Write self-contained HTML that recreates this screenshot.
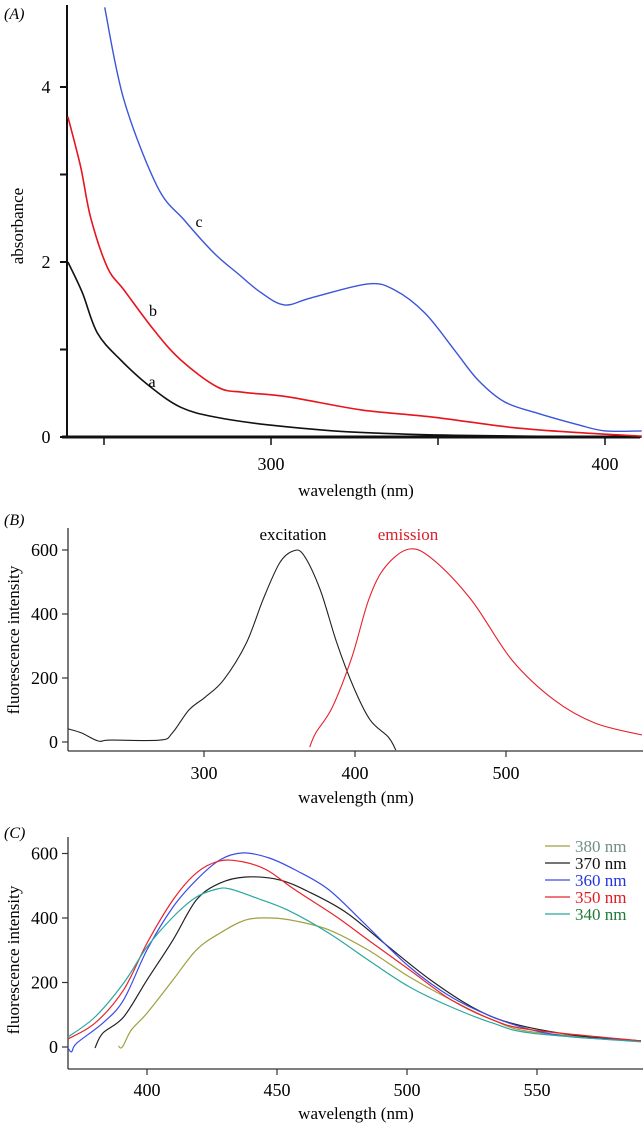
<!DOCTYPE html>
<html><head><meta charset="utf-8"><style>
html,body{margin:0;padding:0;background:#fff;}
svg{display:block;font-family:"Liberation Serif",serif;}
</style></head><body>
<svg id="fig" width="643" height="1123" viewBox="0 0 643 1123" xmlns="http://www.w3.org/2000/svg">
<g id="pA"></g>
<g id="pB"></g>
<g id="pC"></g>
</svg>
<script>
// Panel A data
const aWl_a=[239.2,243.5,248,255,264,273,283,299,323,355,403,411];
const aAbs_a=[2.0,1.65,1.19,0.88,0.57,0.34,0.23,0.14,0.06,0.02,0.0,0.0];
const aWl_b=[239.2,243,246,251,256,265,273,284,292,305,327,348,372,392,411];
const aAbs_b=[3.66,3.09,2.51,1.94,1.68,1.22,0.88,0.57,0.51,0.46,0.31,0.23,0.11,0.05,0.01];
const aWl_c=[250.2,256,266,274,283,290,297,304,312,329,337,346,355,362,370,380,392,400,411];
const aAbs_c=[4.91,3.85,2.86,2.48,2.10,1.87,1.65,1.51,1.59,1.75,1.68,1.42,0.99,0.65,0.40,0.27,0.14,0.07,0.07];
const aXTicks=[250,300,350,400];
const aXLabels=["","300","","400"];
const aYTicks=[0,1,2,3,4];
const aYLabels=["0","","2","","4"];
// Panel B data
const bExWl=[210,219,230,238,271,279,290,301,313,328,339,350,359,366,377,388,399,410,422,427];
const bExI=[41,28,3,6,6,28,100,141,194,309,444,559,597,584,475,309,172,69,16,-25];
const bEmWl=[370,374,385,398,409,420,436,452,477,504,532,559,590];
const bEmI=[-16,28,109,266,444,547,603,569,444,256,131,59,22];
const bXTicks=[300,400,500];
const bYTicks=[0,200,400,600];
// Panel C data
const c360Wl=[369.6,371,373,383,391,400,410,419,428,437,447,457,470,485,501,517,533,548,564,590];
const c360I=[-3,-15,12,74,146,301,434,518,580,602,586,549,487,372,248,155,93,53,31,19];
const c350Wl=[369.6,380,391,400,410,419,428,437,446,457,473,485,501,517,533,548,590];
const c350I=[25,74,177,322,456,540,577,574,549,487,403,332,239,146,84,53,19];
const c370Wl=[380,383,391,400,410,419,428,438,451,463,477,493,509,525,540,564,590];
const c370I=[-3,43,93,208,332,456,508,527,518,478,415,310,208,124,74,37,19];
const c380Wl=[389,390.5,394,400,410,419,428,438,448,457,470,485,501,517,533,548,590];
const c380I=[3,0,53,105,208,301,353,394,400,391,363,301,217,146,84,47,19];
const c340Wl=[369.6,380,391,400,410,419,427,432,441,454,470,485,501,517,533,548,590];
const c340I=[31,93,198,310,403,465,490,490,465,425,353,270,186,124,74,43,16];
const cXTicks=[400,450,500,550];
const cYTicks=[0,200,400,600];
const cLegendLabels=["380 nm","370 nm","360 nm","350 nm","340 nm"];

const NS="http://www.w3.org/2000/svg";
function mk(parent,tag,attrs,text){const e=document.createElementNS(NS,tag);for(const k in attrs)e.setAttribute(k,attrs[k]);if(text!==undefined)e.textContent=text;parent.appendChild(e);return e;}
function pathD(xs,ys,fx,fy){
  const P=xs.map((w,i)=>[fx(w),fy(ys[i])]);
  let d="M"+P[0][0].toFixed(1)+","+P[0][1].toFixed(1);
  for(let i=0;i<P.length-1;i++){
    const p0=P[Math.max(0,i-1)],p1=P[i],p2=P[i+1],p3=P[Math.min(P.length-1,i+2)];
    const c1x=p1[0]+(p2[0]-p0[0])/6,c1y=p1[1]+(p2[1]-p0[1])/6;
    const c2x=p2[0]-(p3[0]-p1[0])/6,c2y=p2[1]-(p3[1]-p1[1])/6;
    d+=" C"+c1x.toFixed(1)+","+c1y.toFixed(1)+" "+c2x.toFixed(1)+","+c2y.toFixed(1)+" "+p2[0].toFixed(1)+","+p2[1].toFixed(1);
  }
  return d;
}

// ---- Panel A ----
const A=document.getElementById('pA');
const ax=w=>271+(w-300)*3.34, ay=v=>437-v*87.5;
let t;
t=mk(A,'text',{x:4,y:19,'font-size':16,'font-style':'italic'},'(A)');

let l=mk(A,'line',{x1:67,y1:5,x2:67,y2:438,stroke:'#111','stroke-width':2});

l=mk(A,'line',{x1:62,y1:437,x2:640,y2:437,stroke:'#111','stroke-width':3});

aYTicks.forEach((v,i)=>{const e=mk(A,'line',{x1:60,y1:ay(v),x2:67,y2:ay(v),stroke:'#111','stroke-width':2});

if(aYLabels[i]){const tt=mk(A,'text',{x:46,y:ay(v)+6,'font-size':18,'text-anchor':'middle'},aYLabels[i]);
}});
aXTicks.forEach((v,i)=>{const e=mk(A,'line',{x1:ax(v),y1:437,x2:ax(v),y2:445,stroke:'#111','stroke-width':1.5});

if(aXLabels[i]){const tt=mk(A,'text',{x:ax(v),y:470,'font-size':18,'text-anchor':'middle'},aXLabels[i]);
}});
t=mk(A,'text',{x:356,y:496,'font-size':17,'text-anchor':'middle'},'wavelength (nm)');

t=mk(A,'text',{x:0,y:0,'font-size':17,'text-anchor':'middle',transform:'translate(23,226) rotate(-90)'},'absorbance');

let p=mk(A,'path',{d:pathD(aWl_a,aAbs_a,ax,ay),fill:'none',stroke:'#111','stroke-width':1.6});

p=mk(A,'path',{d:pathD(aWl_b,aAbs_b,ax,ay),fill:'none',stroke:'#e8141c','stroke-width':1.6});

p=mk(A,'path',{d:pathD(aWl_c,aAbs_c,ax,ay),fill:'none',stroke:'#3a55d8','stroke-width':1.4});

t=mk(A,'text',{x:199,y:227,'font-size':16,'text-anchor':'middle'},'c');

t=mk(A,'text',{x:153,y:316,'font-size':16,'text-anchor':'middle'},'b');

t=mk(A,'text',{x:152,y:387,'font-size':16,'text-anchor':'middle'},'a');


// ---- Panel B ----
const B=document.getElementById('pB');
const bx=w=>204+(w-300)*1.51, by=v=>742-v*0.32;
t=mk(B,'text',{x:4,y:525,'font-size':16,'font-style':'italic'},'(B)');

l=mk(B,'line',{x1:68,y1:528,x2:68,y2:751,stroke:'#333','stroke-width':1.3});

l=mk(B,'line',{x1:68,y1:751,x2:643,y2:751,stroke:'#333','stroke-width':1.3});

bYTicks.forEach(v=>{const e=mk(B,'line',{x1:62,y1:by(v),x2:68,y2:by(v),stroke:'#333','stroke-width':1.2});

const tt=mk(B,'text',{x:58,y:by(v)+6,'font-size':18,'text-anchor':'end'},String(v));
});
bXTicks.forEach(v=>{const e=mk(B,'line',{x1:bx(v),y1:751,x2:bx(v),y2:757,stroke:'#333','stroke-width':1.2});

const tt=mk(B,'text',{x:bx(v),y:779,'font-size':18,'text-anchor':'middle'},String(v));
});
t=mk(B,'text',{x:356,y:803,'font-size':17,'text-anchor':'middle'},'wavelength (nm)');

t=mk(B,'text',{x:0,y:0,'font-size':17,'text-anchor':'middle',transform:'translate(19,640) rotate(-90)'},'fluorescence intensity');

p=mk(B,'path',{d:pathD(bExWl,bExI,bx,by),fill:'none',stroke:'#222','stroke-width':1.1});

p=mk(B,'path',{d:pathD(bEmWl,bEmI,bx,by),fill:'none',stroke:'#e8202c','stroke-width':1.1});

t=mk(B,'text',{x:293,y:540,'font-size':17,'text-anchor':'middle'},'excitation');

t=mk(B,'text',{x:408,y:540,'font-size':17,'text-anchor':'middle',fill:'#d8202c'},'emission');


// ---- Panel C ----
const C=document.getElementById('pC');
const cx=w=>147+(w-400)*2.6, cy=v=>1047-v*0.3225;
t=mk(C,'text',{x:4,y:838,'font-size':16,'font-style':'italic'},'(C)');

l=mk(C,'line',{x1:68,y1:837,x2:68,y2:1069,stroke:'#333','stroke-width':1.3});

l=mk(C,'line',{x1:68,y1:1069,x2:643,y2:1069,stroke:'#333','stroke-width':1.3});

cYTicks.forEach(v=>{const e=mk(C,'line',{x1:62,y1:cy(v),x2:68,y2:cy(v),stroke:'#333','stroke-width':1.2});

const tt=mk(C,'text',{x:58,y:cy(v)+6,'font-size':18,'text-anchor':'end'},String(v));
});
cXTicks.forEach(v=>{const e=mk(C,'line',{x1:cx(v),y1:1069,x2:cx(v),y2:1075,stroke:'#333','stroke-width':1.2});

const tt=mk(C,'text',{x:cx(v),y:1096,'font-size':18,'text-anchor':'middle'},String(v));
});
t=mk(C,'text',{x:356,y:1119,'font-size':17,'text-anchor':'middle'},'wavelength (nm)');

t=mk(C,'text',{x:0,y:0,'font-size':17,'text-anchor':'middle',transform:'translate(19,960) rotate(-90)'},'fluorescence intensity');

const cSeries=[[c380Wl,c380I,'#a0a040','#6f9080','series-380nm'],[c370Wl,c370I,'#222','#111','series-370nm'],[c360Wl,c360I,'#3a4ce8','#2233dd','series-360nm'],[c350Wl,c350I,'#e8242c','#e01a22','series-350nm'],[c340Wl,c340I,'#2aa8a0','#1f7a38','series-340nm']];
cSeries.forEach((s,i)=>{
const pp=mk(C,'path',{d:pathD(s[0],s[1],cx,cy),fill:'none',stroke:s[2],'stroke-width':1.2});


const ly=846+i*17;
const ll=mk(C,'line',{x1:545,y1:ly,x2:570,y2:ly,stroke:s[2],'stroke-width':1.2});


const lt=mk(C,'text',{x:575,y:ly+6,'font-size':17,fill:s[3]},cLegendLabels[i]);


});
</script>
</body></html>
